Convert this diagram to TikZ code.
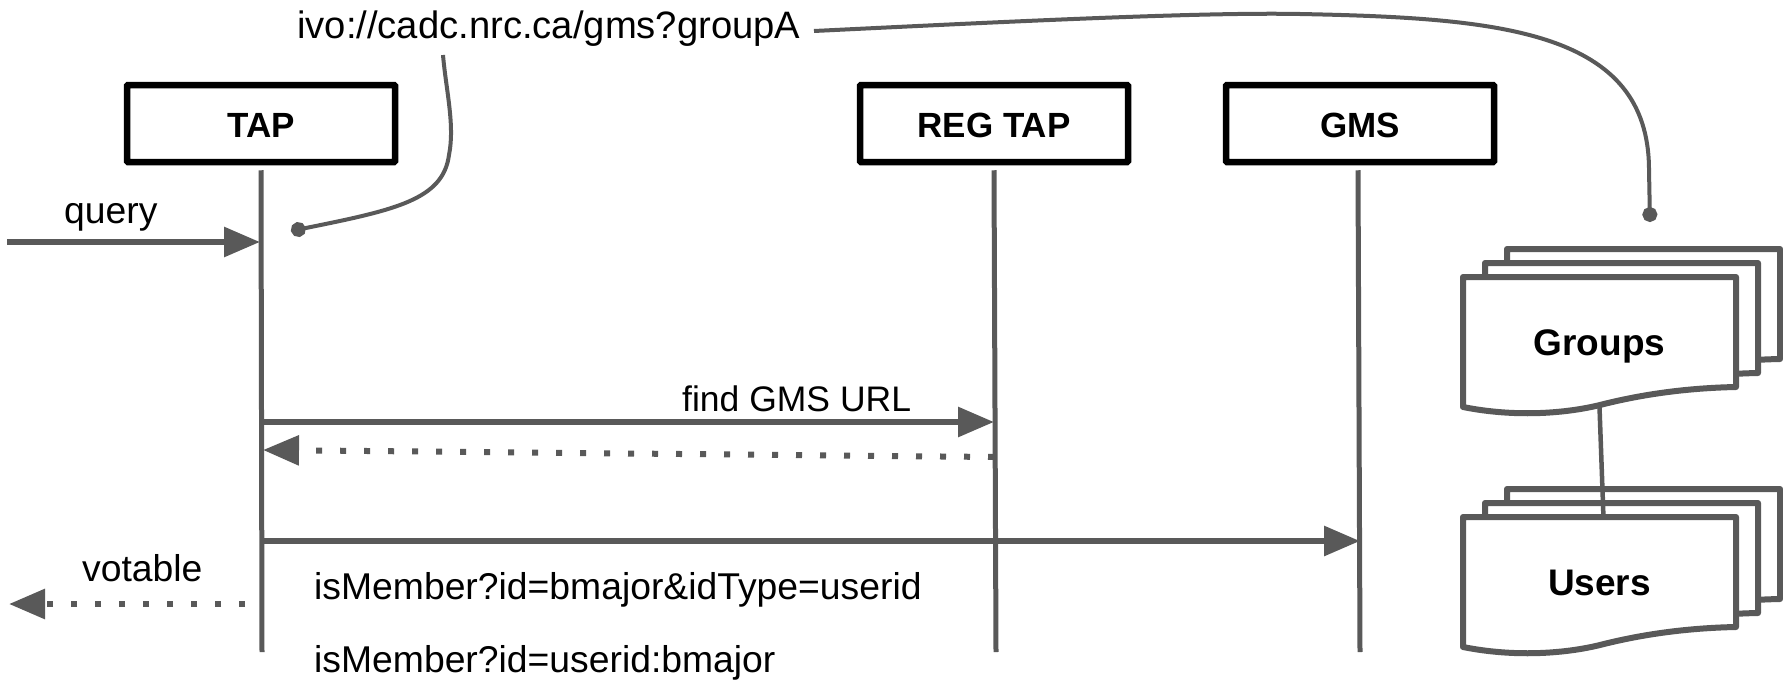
\documentclass[tikz,border=0pt]{standalone}
\usepackage{fontspec}
\setmainfont{Liberation Sans}
\usetikzlibrary{arrows.meta}
\definecolor{linegray}{HTML}{595959}
\tikzset{
  msgtext/.style={anchor=base west,inner sep=0pt,font=\fontsize{37.3}{44}\selectfont},
  actor/.style={draw=black,line width=6.5pt,rounded corners=1pt,minimum width=268pt,minimum height=77pt,inner sep=0pt,text height=28pt,text depth=0pt,font=\fontsize{35}{44}\selectfont\bfseries},
  lifeline/.style={draw=linegray,line width=5pt},
  msg/.style={draw=linegray,line width=6pt,-{Triangle[length=36pt,width=29pt]}},
  reply/.style={msg,dash pattern=on 6pt off 18pt},
  callout/.style={draw=linegray,line width=4pt,{Circle[length=15pt]}-},
  docstack/.pic={
    \foreach \dx/\dy in {44/-28,22/-14,0/0}{
      \draw[linegray,line width=6pt,fill=white,line join=round,shift={(\dx,\dy)}] (0,0) -- (273,0) -- (273,110)
        .. controls (225,111) and (180,117) .. (137,128)
        .. controls (100,137) and (50,140) .. (0,130) -- cycle;
    }
    \node[inner sep=0pt,minimum width=273pt,minimum height=130pt,text height=27pt,text depth=8pt,font=\fontsize{37}{44}\selectfont\bfseries] (-box) at (136.5,68.5) {\tikzpictext};
  }
}
\begin{document}
\begin{tikzpicture}[x=1pt,y=-1pt]
  \useasboundingbox (0,0) rectangle (1783,680);

  \node[actor] (tap) at (261,123.5) {TAP};
  \node[actor] (regtap) at (994,123.5) {REG TAP};
  \node[actor] (gms) at (1360,123.5) {GMS};

  \coordinate (tapEnd) at (262,652);
  \coordinate (regtapEnd) at (996,652);
  \coordinate (gmsEnd) at (1360,652);
  \draw[lifeline] ([yshift=-5pt]tap.south) -- (tapEnd);
  \draw[lifeline] ([yshift=-5pt]regtap.south) -- (regtapEnd);
  \draw[lifeline] ([xshift=-2pt,yshift=-5pt]gms.south) -- (gmsEnd);

  \pic[pic text=Groups] (groups) at (1463,277) {docstack};
  \pic[pic text=Users] (users) at (1463,517) {docstack};
  \draw[linegray,line width=4.5pt] ([yshift=3.5pt]groups-box.south) -- ([xshift=4pt,yshift=2pt]users-box.north);

  % incoming and outgoing messages
  \coordinate (queryIn) at (7,242);
  \coordinate (queryTap) at (260,242);
  \draw[msg] (queryIn) -- (queryTap);
  \coordinate (findTap) at (263,422);
  \coordinate (findReg) at (994,422);
  \draw[msg] (findTap) -- (findReg);
  \coordinate (urlReg) at (994,457);
  \coordinate (urlTap) at (263,450);
  \draw[reply] (urlReg) -- (urlTap);
  \coordinate (memberTap) at (263,541);
  \coordinate (memberGms) at (1360,541);
  \draw[msg] (memberTap) -- (memberGms);
  \coordinate (votableTap) at (245,604);
  \coordinate (votableOut) at (9,604);
  \draw[reply] (votableTap) -- (votableOut);

  \node[msgtext] (query) at (64,223) {query};
  \node[msgtext,font=\fontsize{35.5}{44}\selectfont] (find) at (682,411) {find GMS URL};
  \node[msgtext] (votable) at (82,581) {votable};
  \node[msgtext] (member1) at (314,599) {isMember?id=bmajor\&idType=userid};
  \node[msgtext] (member2) at (314,672) {isMember?id=userid:bmajor};
  \node[msgtext,font=\fontsize{38.2}{44}\selectfont] (ivo) at (297,38) {ivo://cadc.nrc.ca/gms?groupA};

  % callouts from the identifier
  \coordinate (tapDot) at (291,231);
  \coordinate (groupsDot) at (1650,222);
  \coordinate (ivoTap) at (443,55);
  \coordinate (ivoGroups) at (814,31);
  \draw[callout] (tapDot) .. controls (395,210) and (443,200) .. (449,155)
    .. controls (455,125) and (446,90) .. (ivoTap);
  \draw[callout] (groupsDot) -- (1649,170)
    .. controls (1649,30) and (1500,18) .. (1300,14)
    .. controls (1200,12) and (1000,22) .. (ivoGroups);
\end{tikzpicture}
\end{document}
